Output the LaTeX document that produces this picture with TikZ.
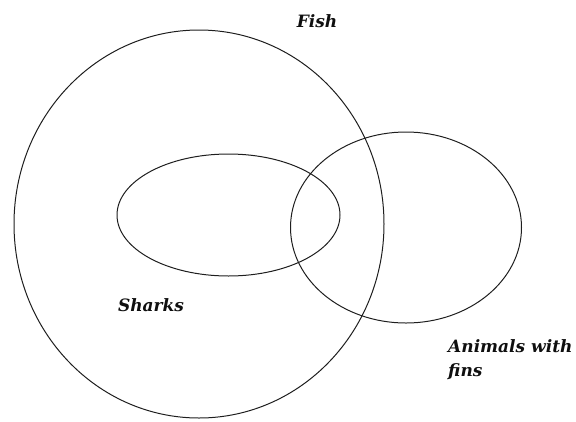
\documentclass[tikz,border=0pt]{standalone}
\usepackage{fontspec}
\setmainfont{DejaVu Serif}
\usepackage{xcolor}
\usetikzlibrary{positioning}
\definecolor{vennLine}{RGB}{30,30,30}
\definecolor{darkText}{RGB}{15,15,15}
\tikzset{
    setline/.style={
        draw=vennLine,
        line width=1pt
    },
    setlabel/.style={
        font=\fontsize{17}{24}\selectfont\bfseries\itshape,
        text=darkText,
        inner sep=0pt,
        align=left
    }
}

\begin{document}
\begin{tikzpicture}[x=1pt, y=-1pt]
    \useasboundingbox (0,0) rectangle (576,421);
    \draw[setline] (199,224) ellipse [x radius=185, y radius=194];
    \draw[setline] (228.5,215) ellipse [x radius=111.5, y radius=61];
    \draw[setline] (406,227.5) ellipse [x radius=115.5, y radius=95.5];
    \node[setlabel] (fish) at (317,21) {Fish};
    \node[setlabel] (sharks) at (151,305) {Sharks};
    \node[setlabel, anchor=north west] (fins) at (448,339) {Animals with\\fins};
\end{tikzpicture}
\end{document}
